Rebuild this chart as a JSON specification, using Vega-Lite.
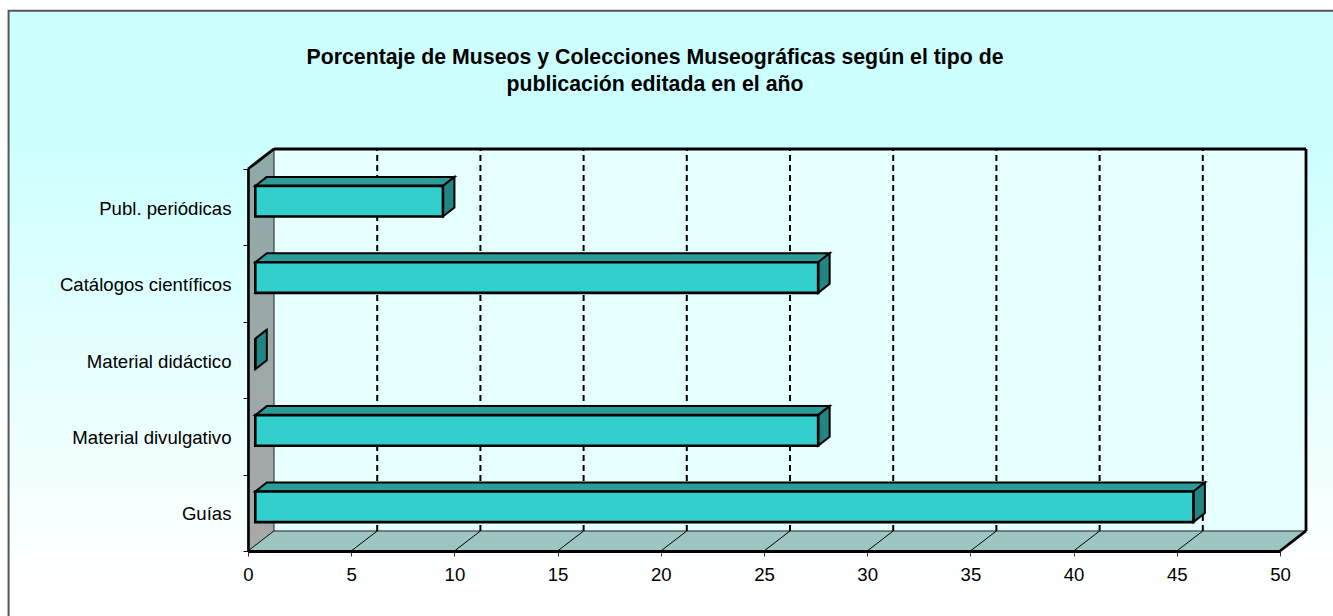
{
"$schema":"https://vega.github.io/schema/vega-lite/v6.json",
"width":1032,"height":382,
"autosize":{"type":"none"},
"padding":{"left":248,"top":169,"right":53,"bottom":65},
"background":"#ffffff",
"config":{"view":{"stroke":null},"font":"Liberation Sans"},
"title":{"text":["Porcentaje de Museos y Colecciones Museográficas según el tipo de","publicación editada en el año"],"anchor":"middle","dx":-109,"fontSize":21.3,"fontWeight":"bold","font":"Liberation Sans","color":"#000000","lineHeight":27,"offset":-85.5},
"data":{"values":[
{"categoria":"Publ. periódicas","porcentaje":9.09},
{"categoria":"Catálogos científicos","porcentaje":27.27},
{"categoria":"Material didáctico","porcentaje":0},
{"categoria":"Material divulgativo","porcentaje":27.27},
{"categoria":"Guías","porcentaje":45.45}
]},
"resolve":{"scale":{"y":"independent"},"axis":{"y":"independent"}},
"layer":[
{"layer":[
 {"data":{"values":[{"x0":-11.6,"x1":56,"y0":-0.9,"y1":7.07}]},
  "mark":{"type":"rect","stroke":"#555555","strokeWidth":2,"fill":{"gradient":"linear","x1":0,"y1":0,"x2":0,"y2":1,"stops":[{"offset":0,"color":"#ccffff"},{"offset":0.2,"color":"#ccffff"},{"offset":0.95,"color":"#ffffff"}]}},
  "encoding":{"x":{"field":"x0","type":"quantitative","scale":{"domain":[0,50],"nice":false},"title":null},"x2":{"field":"x1"},"y":{"field":"y0","type":"quantitative","scale":{"domain":[0,5],"nice":false,"zero":false},"title":null,"axis":{"orient":"left","zindex":1,"title":null,"values":[0,1,2,3,4,5],"labels":false,"grid":false,"domainColor":"#000000","domainWidth":2.6,"tickColor":"#000000","tickSize":5,"tickWidth":1}},"y2":{"field":"y1"}}},
 {"data":{"values":[{"x0":1.26,"x1":51.26,"y0":0.262,"y1":5.262}]},
  "mark":{"type":"rect","fill":"#e6ffff"},
  "encoding":{"x":{"field":"x0","type":"quantitative"},"x2":{"field":"x1"},"y":{"field":"y0","type":"quantitative"},"y2":{"field":"y1"}}},
 {"data":{"values":[{"d":0},{"d":1}]},
  "transform":[{"calculate":"1.26*datum.d","as":"px"},{"calculate":"5+0.262*datum.d","as":"top"},{"calculate":"0.262*datum.d","as":"bot"}],
  "mark":{"type":"area","stroke":"#222222","strokeWidth":1,"fill":{"gradient":"linear","x1":0,"y1":0,"x2":0,"y2":1,"stops":[{"offset":0,"color":"#8fa9a9"},{"offset":1,"color":"#a8a8a8"}]}},
  "encoding":{"x":{"field":"px","type":"quantitative"},"y":{"field":"top","type":"quantitative"},"y2":{"field":"bot"}}},
 {"data":{"values":[{"d":0},{"d":1}]},
  "transform":[{"calculate":"0.262*datum.d","as":"py"},{"calculate":"1.26*datum.d","as":"left"},{"calculate":"50+1.26*datum.d","as":"right"}],
  "mark":{"type":"area","orient":"horizontal","stroke":"#222222","strokeWidth":1,"fill":"#9dc5c1"},
  "encoding":{"y":{"field":"py","type":"quantitative"},"x":{"field":"left","type":"quantitative"},"x2":{"field":"right"}}},
 {"data":{"values":[{"t":5},{"t":10},{"t":15},{"t":20},{"t":25},{"t":30},{"t":35},{"t":40},{"t":45}]},
  "transform":[{"calculate":"datum.t+1.26","as":"back"},{"calculate":"0.262","as":"yb"},{"calculate":"5.262","as":"yt"},{"calculate":"0","as":"y0"}],
  "layer":[
   {"mark":{"type":"rule","color":"#000000","strokeWidth":2,"strokeDash":[6,4]},"encoding":{"x":{"field":"back","type":"quantitative"},"y":{"field":"yb","type":"quantitative"},"y2":{"field":"yt"}}},
   {"mark":{"type":"rule","color":"#000000","strokeWidth":1},"encoding":{"x":{"field":"t","type":"quantitative"},"x2":{"field":"back"},"y":{"field":"y0","type":"quantitative"},"y2":{"field":"yb"}}}
  ]},
 {"data":{"values":[
   {"xa":0,"xb":1.26,"ya":5,"yb":5.262},
   {"xa":1.26,"xb":51.26,"ya":5.262,"yb":5.262},
   {"xa":51.26,"xb":51.26,"ya":0.262,"yb":5.262},
   {"xa":50,"xb":51.26,"ya":0,"yb":0.262}
  ]},
  "mark":{"type":"rule","color":"#000000","strokeWidth":2.8},
  "encoding":{"x":{"field":"xa","type":"quantitative"},"x2":{"field":"xb"},"y":{"field":"ya","type":"quantitative"},"y2":{"field":"yb"}}},
 {"transform":[
   {"calculate":"indexof(['Guías','Material divulgativo','Material didáctico','Catálogos científicos','Publ. periódicas'],datum.categoria)","as":"idx"},
   {"calculate":"[0,1]","as":"d"},{"flatten":["d"]},
   {"calculate":"0.354+0.557*datum.d","as":"left"},
   {"calculate":"datum.left+datum.porcentaje","as":"right"},
   {"calculate":"datum.idx+0.7785+0.118*datum.d","as":"high"},
   {"calculate":"datum.idx+0.3785+0.118*datum.d","as":"low"}
  ],
  "layer":[
   {"mark":{"type":"area","orient":"horizontal","fill":"#2a9d9a","stroke":"#000000","strokeWidth":2},
    "encoding":{"y":{"field":"high","type":"quantitative"},"x":{"field":"left","type":"quantitative"},"x2":{"field":"right"},"detail":{"field":"categoria"}}},
   {"mark":{"type":"area","fill":"#238583","stroke":"#000000","strokeWidth":2},
    "encoding":{"x":{"field":"right","type":"quantitative"},"y":{"field":"high","type":"quantitative"},"y2":{"field":"low"},"detail":{"field":"categoria"}}}
  ]}
 ]},
 {"mark":{"type":"bar","fill":"#33cfcd","stroke":"#000000","strokeWidth":2.6,"xOffset":7.3,"yOffset":-6,"x2Offset":7.3,"y2Offset":-6},
  "encoding":{
   "y":{"field":"categoria","type":"nominal","sort":null,"title":null,
    "scale":{"domain":["Publ. periódicas","Catálogos científicos","Material didáctico","Material divulgativo","Guías"],"paddingInner":0.6,"paddingOuter":0.3},
    "axis":{"orient":"left","zindex":1,"ticks":false,"domain":false,"tickSize":0,"labelFont":"Liberation Sans","labelFontSize":18.6,"labelColor":"#000000","labelPadding":17,"labelLimit":300,"labelOffset":1.5}},
   "x":{"field":"porcentaje","type":"quantitative","title":null,"scale":{"domain":[0,50],"nice":false},
    "axis":{"zindex":1,"values":[0,5,10,15,20,25,30,35,40,45,50],"grid":false,"domainColor":"#000000","domainWidth":3,"tickColor":"#333333","tickSize":5,"tickWidth":1,"labelFont":"Liberation Sans","labelFontSize":18.6,"labelColor":"#000000","labelPadding":9,"labelFlush":false}}
  }}
]
}
